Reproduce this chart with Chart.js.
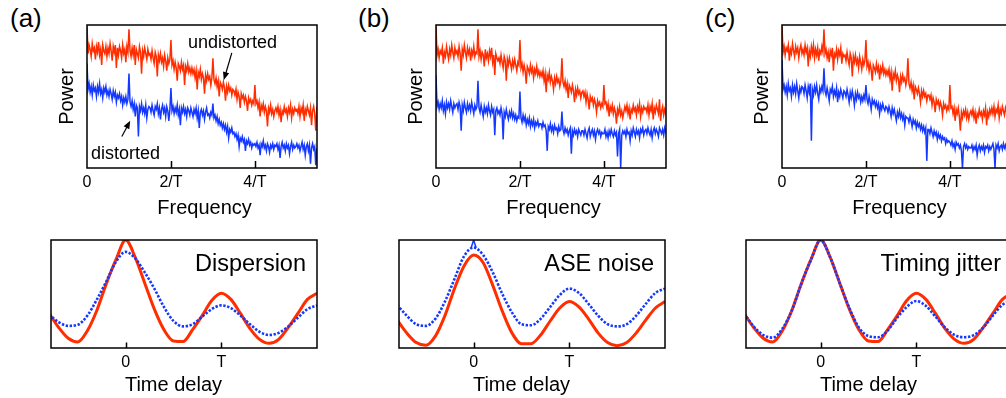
<!DOCTYPE html>
<html>
<head>
<meta charset="utf-8">
<script src="https://cdn.jsdelivr.net/npm/chart.js@4.4.0/dist/chart.umd.min.js"></script>
<style>
  html, body { margin: 0; padding: 0; background: #fff; overflow: hidden; }
  body { width: 1006px; height: 398px; position: relative; font-family: "Liberation Sans", Arial, sans-serif; }
  canvas { position: absolute; }
  .tag { position: absolute; font-size: 26px; line-height: 26px; color: #000; }
</style>
</head>
<body>
<div class="tag" style="left:10px;top:5px">(a)</div>
<div class="tag" style="left:358px;top:5px">(b)</div>
<div class="tag" style="left:705px;top:5px">(c)</div>

<canvas id="specA" width="280" height="215" style="left:42px;top:15px"></canvas>
<canvas id="specB" width="280" height="215" style="left:391px;top:15px"></canvas>
<canvas id="specC" width="280" height="215" style="left:737px;top:15px"></canvas>

<canvas id="corrA" width="286" height="166" style="left:41px;top:232px"></canvas>
<canvas id="corrB" width="286" height="166" style="left:389px;top:232px"></canvas>
<canvas id="corrC" width="286" height="166" style="left:736px;top:232px"></canvas>

<script>
// tick labels
const freqTickVals = [0, 2, 4];
const freqTickLabels = ['0', '2/T', '4/T'];
const timeTickVals = [0, 1];
const timeTickLabels = ['0', 'T'];

// power spectra, one value every 0.025/T from 0 to 5.5/T (20 values per row = 0.5/T)
const redA = [
  99,80,86,83,78,87,82,84,76,85,81,88,79,83,72,86,82,80,85,78,
  84,80,87,82,75,85,81,86,70,84,79,85,82,77,86,80,83,74,85,81,
  97,82,78,84,79,86,72,83,80,77,85,81,66,82,78,84,80,76,83,79,
  80,76,82,77,73,81,78,64,79,75,80,74,77,71,79,75,68,77,73,76,
  89.5,72,75,69,74,70,61,73,71,68,74,69,72,58,71,68,73,67,70,66,
  70,66,69,63,68,55,67,64,69,62,66,63,52,65,61,66,62,64,58,63,
  76.7,62,59,63,57,61,50,60,58,55,60,56,47,57,53,58,54,56,51,55,
  54,51,55,48,53,50,42,52,49,51,46,50,47,40,49,46,48,44,47,45,
  58,45,47,42,46,36,44,41,45,39,43,40,29,42,39,44,38,41,36,40,
  42,39,43,37,41,32,40,38,43,39,41,36,42,39,44,35,41,38,42,40,
  41,38,43,36,42,39,44,33,41,38,43,40,37,42,30,40,43,38,26,41,
  39];
const blueA = [
  73,55,59,53,57,51,58,54,56,50,57,53,59,52,55,49,56,53,57,51,
  54,50,55,52,48,54,50,53,46,51,49,52,47,50,44,49,46,50,45,48,
  66,46,43,47,41,45,36,44,42,22,43,40,45,39,42,38,44,35,41,43,
  42,39,44,40,37,43,41,45,38,42,34,41,44,39,42,36,43,40,33,41,
  56,40,43,38,42,39,44,37,41,30,42,39,43,38,41,36,42,40,37,42,
  39,36,41,38,42,35,40,28,39,41,37,40,34,39,42,37,38,35,39,37,
  45,35,37,33,36,31,34,30,32,28,31,27,30,25,29,21,27,25,28,24,
  25,22,24,20,23,15,21,19,22,18,20,12,19,17,20,16,18,14,17,16,
  17,15,18,14,16,9,17,15,19,14,16,12,17,15,11,16,14,17,13,16,
  15,17,13,16,7,15,18,14,16,12,17,14,16,10,15,18,13,16,14,15,
  17,14,16,12,15,18,13,16,9,15,17,12,16,3,14,17,13,15,2,14,
  0];
const redB = [
  99,79,83,77,82,80,84,73,81,78,85,80,76,83,79,86,81,77,84,80,
  82,78,85,80,68,83,79,86,81,77,84,80,83,75,82,79,85,78,81,80,
  97,78,82,76,81,79,71,83,77,80,75,82,78,84,74,79,65,80,77,75,
  77,73,79,74,70,78,75,61,76,72,77,73,69,75,71,76,72,68,74,72,
  89.5,70,73,67,72,68,59,71,69,66,72,67,70,63,69,66,71,65,68,64,
  67,64,68,61,66,53,65,62,67,60,64,61,55,63,59,64,60,62,57,61,
  76.7,60,57,61,55,59,49,58,56,53,58,54,46,55,51,56,52,54,49,53,
  54,50,53,46,52,48,41,50,47,49,44,48,45,39,47,44,46,42,45,43,
  58,45,46,41,45,36,43,40,44,38,42,39,31,41,38,43,37,40,35,39,
  43,40,44,38,42,34,41,39,44,40,42,37,43,40,45,36,42,39,43,41,
  42,39,44,37,43,40,45,34,42,39,44,41,38,48,33,40,43,37,41,38,
  39];
const blueB = [
  65,43,46,41,45,42,47,40,44,38,46,42,45,41,47,43,39,45,42,44,
  45,41,46,43,26,44,40,46,42,39,45,41,44,40,46,42,38,44,41,43,
  61,42,39,44,40,36,43,39,42,38,44,40,37,43,39,41,23,40,42,38,
  40,37,42,38,20,39,36,41,37,34,39,36,40,35,38,34,37,33,36,35,
  53.5,35,32,37,33,36,30,34,31,35,29,33,30,34,28,32,30,33,29,31,
  31,28,32,29,30,26,12,29,27,31,26,29,25,30,27,28,24,29,26,27,
  39.5,27,24,28,25,27,23,26,28,10,26,23,27,24,26,22,27,25,23,26,
  26,23,27,24,21,26,28,22,25,27,23,26,20,25,27,24,26,22,25,24,
  24,27,22,25,21,26,23,27,24,22,26,23,25,8,24,27,0,23,26,24,
  26,22,27,24,25,19,26,23,28,25,22,27,24,26,21,27,25,28,23,26,
  27,24,28,25,23,27,21,26,28,24,27,25,22,28,26,24,27,23,28,25,
  26];
const redC = [
  99,81,85,79,84,82,86,75,83,80,87,82,78,85,81,84,77,83,86,80,
  83,79,86,81,84,71,82,78,85,80,86,77,83,79,84,75,82,80,85,81,
  97,80,83,77,81,74,82,79,84,68,80,78,83,76,82,79,84,73,80,78,
  79,75,81,76,72,80,77,64,78,74,79,73,76,70,78,74,69,76,72,75,
  89.5,71,74,68,73,69,61,72,70,67,73,68,71,62,70,67,72,66,69,65,
  68,65,69,62,67,54,66,63,68,61,65,62,53,64,60,65,61,63,58,62,
  76.7,59,56,60,54,58,48,57,55,52,56,52,46,54,50,54,50,52,47,51,
  51,48,51,44,49,46,39,48,45,47,42,46,43,37,45,42,44,40,43,41,
  58,42,43,38,42,33,41,38,42,36,26,39,35,40,37,41,35,39,34,38,
  40,37,41,35,39,31,38,36,41,37,39,34,40,37,42,30,39,36,41,38,
  42,38,43,36,41,39,44,35,41,38,43,40,37,42,39,41,36,40,43,38,
  40];
const blueC = [
  75.6,55,58,53,57,51,59,54,56,50,58,53,57,52,59,54,49,56,53,57,
  56,52,58,54,49,57,53,59,19,55,51,57,53,58,52,48,56,53,57,54,
  69.8,54,51,56,52,47,55,53,57,50,54,51,56,46,53,50,55,52,49,54,
  53,50,55,51,46,53,49,54,50,44,52,48,53,49,51,46,50,47,51,48,
  58,48,45,50,46,41,48,45,47,43,46,42,45,38,44,41,45,42,40,43,
  42,39,43,40,36,42,38,41,37,33,39,36,40,35,38,34,37,30,36,35,
  35,32,36,33,29,34,31,33,28,32,29,31,27,30,26,29,25,28,5,27,
  27,24,28,25,22,26,23,25,20,24,21,23,19,22,20,21,17,20,18,19,
  18,16,19,15,17,13,18,16,17,14,16,12,0,15,17,14,16,13,15,14,
  14,16,12,15,13,16,9,14,16,12,15,13,16,11,15,14,16,12,15,13,
  15,17,13,0,16,14,17,12,15,16,13,17,14,16,12,15,17,13,16,15,
  15];

// correlation traces vs time delay (units of T)
const delay = [-0.8,-0.7,-0.6,-0.5,-0.4,-0.3,-0.2,-0.1,0,0.1,0.2,0.3,0.4,0.5,0.6,0.7,0.8,0.9,1.0,1.1,1.2,1.3,1.4,1.5,1.6,1.7,1.8,1.9,2.0];
const refRed   = [32,19,9,5.6,16,35,60,82,100,84,60,36,17,6.5,6,17,30,44,50.6,45,32,18,8,4.3,8,19,32,45,50.6];
const dispBlue = [31,24,20.5,21.5,30,45,62,80,89,83,70,55,38,25,20,22,29,36,39.5,37,30,22,15,12,14,20,28,36,39.5];
const aseRed   = [26,14,5,2.5,11,30,55,76,86,79,58,34,14,4,4,12,25,37,43,38,27,14,5,2,5,14,26,37,43];
const aseBlue  = [40,30,22,20.5,27,43,64,85,93,86,70,50,33,22,21,27,38,49,55,51,41,30,22,20,22,30,41,51,55];
const jitBlue  = [32,20,12,9.6,18,35,60,82,100,84,60,37,19,11,10,16,28,38,43.5,39,29,19,12,10,12,19,30,40,44];
const aseSpikeT = [-0.025, 0, 0.025];
const aseSpikeV = [93, 100, 93];

const RED = '#ff2d00';
const BLUE = '#1438ff';
const FONT = '"Liberation Sans", Arial, sans-serif';
Chart.defaults.font.family = FONT;
Chart.defaults.color = '#000';

const freq = redA.map((_, i) => +(i * 0.025).toFixed(3));

// box, inward ticks, x label, notes and arrows
const frame = {
  id: 'frame',
  afterDatasetsDraw(chart, args, opts) {
    const { ctx, chartArea: a, scales: { x, y } } = chart;
    ctx.save();
    ctx.strokeStyle = '#000';
    ctx.fillStyle = '#000';
    ctx.lineWidth = 1.5;
    ctx.strokeRect(a.left, a.top, a.width, a.height);
    ctx.beginPath();
    opts.ticks.forEach(v => {
      const px = Math.round(x.getPixelForValue(v)) + 0.5;
      ctx.moveTo(px, a.bottom);
      ctx.lineTo(px, a.bottom - opts.tickLen);
    });
    ctx.stroke();

    ctx.font = '20px ' + FONT;
    ctx.textAlign = 'center';
    ctx.textBaseline = 'middle';
    ctx.fillText(opts.xLabel, x.getPixelForValue(opts.xLabelAt), a.bottom + opts.xLabelDy);

    (opts.notes || []).forEach(n => {
      ctx.font = n.size + 'px ' + FONT;
      ctx.textAlign = n.align;
      ctx.textBaseline = 'alphabetic';
      ctx.fillText(n.text, x.getPixelForValue(n.x), y.getPixelForValue(n.y));
    });

    (opts.arrows || []).forEach(ar => {
      const x1 = x.getPixelForValue(ar[0]), y1 = y.getPixelForValue(ar[1]);
      const x2 = x.getPixelForValue(ar[2]), y2 = y.getPixelForValue(ar[3]);
      const ang = Math.atan2(y2 - y1, x2 - x1);
      ctx.lineWidth = 1.2;
      ctx.beginPath();
      ctx.moveTo(x1, y1);
      ctx.lineTo(x2 - 5 * Math.cos(ang), y2 - 5 * Math.sin(ang));
      ctx.stroke();
      ctx.beginPath();
      ctx.moveTo(x2, y2);
      ctx.lineTo(x2 - 8 * Math.cos(ang) + 3.2 * Math.sin(ang), y2 - 8 * Math.sin(ang) - 3.2 * Math.cos(ang));
      ctx.lineTo(x2 - 8 * Math.cos(ang) - 3.2 * Math.sin(ang), y2 - 8 * Math.sin(ang) + 3.2 * Math.cos(ang));
      ctx.closePath();
      ctx.fill();
    });
    ctx.restore();
  }
};

function spectrum(id, red, blue, notes, arrows) {
  new Chart(id, {
    type: 'line',
    data: {
      datasets: [
        { data: red.map((v, i) => ({ x: freq[i], y: v })), borderColor: RED, borderWidth: 1.5, pointRadius: 0 },
        { data: blue.map((v, i) => ({ x: freq[i], y: v })), borderColor: BLUE, borderWidth: 1.5, pointRadius: 0 }
      ]
    },
    options: {
      responsive: false,
      animation: false,
      events: [],
      layout: { padding: { top: 10, right: 5, left: 0, bottom: 0 } },
      plugins: {
        legend: { display: false },
        tooltip: { enabled: false },
        frame: { ticks: [2, 4], tickLen: 7, xLabel: 'Frequency', xLabelAt: 2.8, xLabelDy: 40, notes, arrows }
      },
      scales: {
        x: {
          type: 'linear', min: 0, max: 5.48,
          grid: { display: false, drawTicks: false },
          border: { display: false },
          afterBuildTicks: s => { s.ticks = freqTickVals.map(v => ({ value: v })); },
          ticks: {
            autoSkip: false, maxRotation: 0, padding: 5.4, font: { size: 16 },
            callback: v => freqTickLabels[freqTickVals.indexOf(v)]
          },
          afterFit: s => { s.height = 62; }
        },
        y: {
          min: 0, max: 100,
          grid: { display: false, drawTicks: false },
          border: { display: false },
          ticks: { display: false },
          title: { display: true, text: 'Power', font: { size: 20 }, padding: { top: 13, bottom: 0 } },
          afterFit: s => { s.width = 45; }
        }
      }
    },
    plugins: [frame]
  });
}

function correlation(id, red, blue, label, spike) {
  const sets = [
    { data: blue.map((v, i) => ({ x: delay[i], y: v })), borderColor: BLUE, borderWidth: 2.6,
      borderDash: [2.4, 1.6], pointRadius: 0, cubicInterpolationMode: 'monotone' },
    { data: red.map((v, i) => ({ x: delay[i], y: v })), borderColor: RED, borderWidth: 3,
      pointRadius: 0, cubicInterpolationMode: 'monotone' }
  ];
  if (spike) {
    sets.unshift({ data: aseSpikeT.map((t, i) => ({ x: t, y: aseSpikeV[i] })), borderColor: BLUE,
      borderWidth: 1.5, pointRadius: 0 });
  }
  new Chart(id, {
    type: 'line',
    data: { datasets: sets },
    options: {
      responsive: false,
      animation: false,
      events: [],
      layout: { padding: { top: 8, right: 10, left: 10, bottom: 0 } },
      plugins: {
        legend: { display: false },
        tooltip: { enabled: false },
        frame: { ticks: timeTickVals, tickLen: 5.5, xLabel: 'Time delay', xLabelAt: 0.5, xLabelDy: 37,
          notes: [{ text: label, x: 1.885, y: 71.3, align: 'right', size: 23.5 }] }
      },
      scales: {
        x: {
          type: 'linear', min: -0.78, max: 2.0,
          grid: { display: false, drawTicks: false },
          border: { display: false },
          afterBuildTicks: s => { s.ticks = timeTickVals.map(v => ({ value: v })); },
          ticks: {
            autoSkip: false, maxRotation: 0, padding: 5, font: { size: 16 },
            callback: v => timeTickLabels[timeTickVals.indexOf(v)]
          },
          afterFit: s => { s.height = 50; }
        },
        y: { display: false, min: 0, max: 100 }
      }
    },
    plugins: [frame]
  });
}

spectrum('specA', redA, blueA,
  [{ text: 'undistorted', x: 2.405, y: 84, align: 'left', size: 18 },
   { text: 'distorted', x: 0.095, y: 6.5, align: 'left', size: 18 }],
  [[3.45, 80.5, 3.26, 61.5], [0.83, 22, 1.03, 33]]);
spectrum('specB', redB, blueB);
spectrum('specC', redC, blueC);

correlation('corrA', refRed, dispBlue, 'Dispersion');
correlation('corrB', aseRed, aseBlue, 'ASE noise', true);
correlation('corrC', refRed, jitBlue, 'Timing jitter');
</script>
</body>
</html>
